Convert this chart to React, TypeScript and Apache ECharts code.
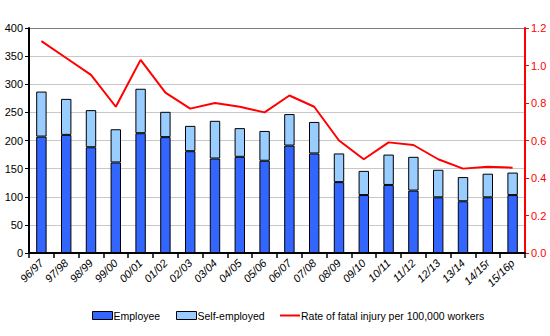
import React, { useEffect, useRef } from "react";
import * as echarts from "echarts";

const categories = ["96/97","97/98","98/99","99/00","00/01","01/02","02/03","03/04","04/05","05/06","06/07","07/08","08/09","09/10","10/11","11/12","12/13","13/14","14/15r","15/16p"];
const employee = [207,210,188,161,213,206,181,168,171,164,191,177,126,103,121,111,99,92,99,103];
const selfEmployed = [80,64,66,59,79,45,45,67,51,53,56,56,51,43,54,60,49,43,42,40];
const rate = [1.13,1.04,0.95,0.78,1.03,0.855,0.77,0.80,0.78,0.75,0.84,0.78,0.60,0.50,0.59,0.576,0.50,0.45,0.46,0.455];
const rightTicks = ["0.0","0.2","0.4","0.6","0.8","1.0","1.2"];

const FONT = "'Liberation Sans', Arial, sans-serif";
const RATE = "Rate of fatal injury per 100,000 workers";

export default function App() {
  const ref = useRef<HTMLDivElement>(null);
  useEffect(() => {
    if (!ref.current) return;
    const chart = echarts.init(ref.current, undefined, { renderer: "svg" });
    const legendBase = {
      top: 310,
      itemWidth: 20,
      itemHeight: 8,
      padding: 0,
      textStyle: { fontFamily: FONT, fontSize: 10.5, color: "#000", padding: [0, 0, 0, -4] },
    };
    chart.setOption({
      animation: false,
      textStyle: { fontFamily: FONT },
      grid: { left: 29, right: 25, top: 28, bottom: 83 },
      legend: [
        { ...legendBase, left: 92, data: [{ name: "Employee", icon: "rect", itemStyle: { borderColor: "#000", borderWidth: 1 } }] },
        { ...legendBase, left: 176, data: [{ name: "Self-employed", icon: "rect", itemStyle: { borderColor: "#000", borderWidth: 1 } }] },
        { ...legendBase, left: 279, data: [{ name: RATE, itemStyle: { opacity: 0 } }] },
      ],
      xAxis: {
        type: "category",
        data: categories,
        axisLine: { lineStyle: { color: "#000", width: 2 } },
        axisTick: { show: true, length: 5, lineStyle: { color: "#000", width: 1.5 } },
        axisLabel: { rotate: 45, fontSize: 11, color: "#000", fontStyle: "italic", margin: 8, interval: 0 },
      },
      yAxis: [
        {
          type: "value",
          min: 0,
          max: 400,
          interval: 50,
          axisLine: { show: true, lineStyle: { color: "#000", width: 2 } },
          axisTick: { show: true, length: 4, lineStyle: { color: "#000" } },
          axisLabel: { fontSize: 11, color: "#000", margin: 6 },
          splitLine: {
            lineStyle: {
              color: ["#c8c8c8", "#c8c8c8", "#c8c8c8", "#c8c8c8", "#c8c8c8", "#c8c8c8", "#c8c8c8", "#c8c8c8", "#808080"],
              width: 1,
            },
          },
        },
        {
          type: "value",
          min: 0,
          max: 1.2,
          interval: 0.2,
          position: "right",
          axisLine: { show: true, lineStyle: { color: "#ff0000", width: 2 } },
          axisTick: { show: true, length: 4, lineStyle: { color: "#ff0000" } },
          axisLabel: { fontSize: 11, color: "#ff0000", margin: 6, formatter: (v: number) => rightTicks[Math.round(v / 0.2)] },
          splitLine: { show: false },
        },
      ],
      series: [
        {
          name: "Employee",
          type: "bar",
          stack: "total",
          data: employee,
          barWidth: "42%",
          itemStyle: { color: "#3366ff", borderColor: "#000", borderWidth: 1 },
        },
        {
          name: "Self-employed",
          type: "bar",
          stack: "total",
          data: selfEmployed,
          barWidth: "42%",
          itemStyle: { color: "#99ccff", borderColor: "#000", borderWidth: 1 },
        },
        {
          name: RATE,
          type: "line",
          yAxisIndex: 1,
          data: rate,
          symbol: "none",
          lineStyle: { color: "#ff0000", width: 2 },
          itemStyle: { color: "#ff0000" },
        },
      ],
    });
    return () => chart.dispose();
  }, []);
  return <div ref={ref} style={{ width: 550, height: 336, position: "absolute", left: 0, top: 0 }} />;
}
